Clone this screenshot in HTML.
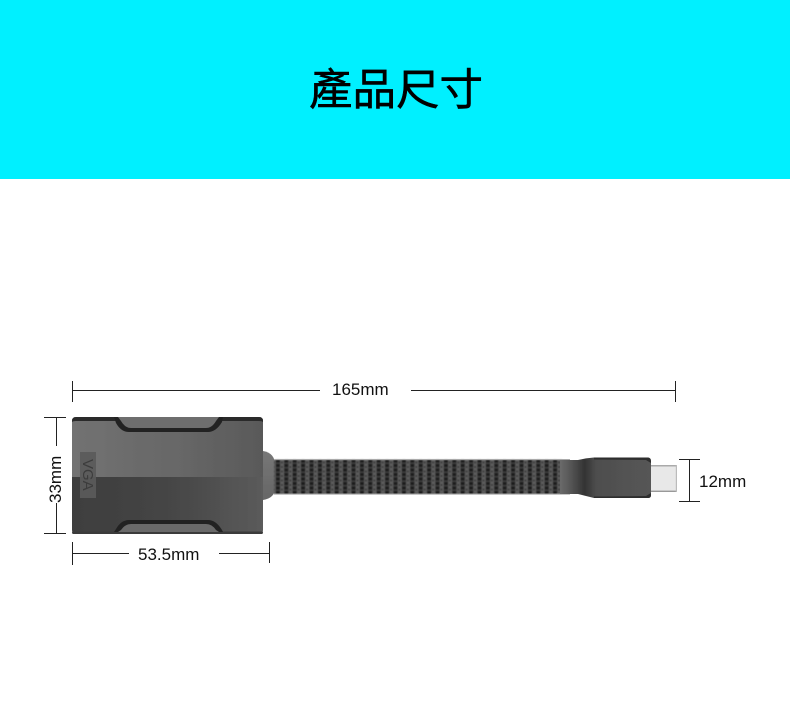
<!DOCTYPE html>
<html>
<head>
<meta charset="utf-8">
<style>
html,body{margin:0;padding:0;background:#fff;}
body{width:790px;height:703px;position:relative;overflow:hidden;font-family:"Liberation Sans","Noto Sans CJK TC",sans-serif;}
#hd{position:absolute;left:0;top:0;width:790px;height:179px;background:#00f0ff;}
#t{position:absolute;left:0;top:60px;width:790px;text-align:center;font-size:43.5px;line-height:62px;color:#000;font-family:"Liberation Sans","Noto Sans CJK TC",sans-serif;padding-left:2px;box-sizing:border-box;-webkit-text-stroke:0.5px #000;}
svg{position:absolute;left:0;top:0;}
text{font-family:"Liberation Sans",sans-serif;font-size:17px;fill:#111;}
</style>
</head>
<body>
<div id="hd"></div>
<div id="t">產品尺寸</div>
<svg width="790" height="703" viewBox="0 0 790 703">
<defs>
<linearGradient id="top" x1="0" y1="0" x2="1" y2="0">
<stop offset="0" stop-color="#727272"/><stop offset=".6" stop-color="#666"/><stop offset="1" stop-color="#595959"/>
</linearGradient>
<linearGradient id="bot" x1="0" y1="0" x2="1" y2="0">
<stop offset="0" stop-color="#3e3e3e"/><stop offset=".5" stop-color="#454545"/><stop offset="1" stop-color="#5b5b5b"/>
</linearGradient>
<linearGradient id="conn" gradientUnits="userSpaceOnUse" x1="560" y1="0" x2="651" y2="0">
<stop offset="0" stop-color="#6a6a6a"/><stop offset=".12" stop-color="#555"/><stop offset=".27" stop-color="#333"/><stop offset=".4" stop-color="#4e4e4e"/><stop offset="1" stop-color="#565656"/>
</linearGradient>
<linearGradient id="collar" x1="0" y1="0" x2="0" y2="1">
<stop offset="0" stop-color="#777"/><stop offset="1" stop-color="#666"/>
</linearGradient>
<pattern id="weave" x="275" y="459" width="8.4" height="9" patternUnits="userSpaceOnUse">
<rect width="8.4" height="9" fill="#5c5c5c"/>
<rect x="0.6" y="0" width="4.6" height="9" fill="#3e3e3e"/>
<rect x="1" y="0.5" width="3.8" height="3" fill="#1e1e1e"/>
<rect x="1" y="5" width="3.8" height="3" fill="#1e1e1e"/>
<rect x="6" y="2.5" width="1.8" height="2" fill="#3c3c3c"/>
<rect x="6" y="7" width="1.8" height="2" fill="#3c3c3c"/>
</pattern>
<filter id="b"><feGaussianBlur stdDeviation="0.6"/></filter>
<filter id="s"><feGaussianBlur stdDeviation="0.35"/></filter>
</defs>

<!-- collar -->
<path d="M263 451 Q275 453 275 465 L275 488 Q275 498 263 500 Z" fill="url(#collar)" filter="url(#s)"/>
<!-- cable -->
<rect x="274" y="459.5" width="296" height="34.5" fill="#666"/>
<rect x="274" y="459.5" width="288" height="34.5" fill="url(#weave)" filter="url(#b)"/>
<rect x="274" y="459" width="296" height="1.2" fill="#aaa"/>
<rect x="274" y="493.6" width="296" height="1.2" fill="#bbb"/>

<!-- plug -->
<rect x="650" y="465" width="27" height="27" rx="1" fill="#e8e8e8" filter="url(#s)"/>
<rect x="650" y="465" width="27" height="1.5" fill="#aaa"/>
<rect x="650" y="490.6" width="27" height="1.4" fill="#999"/>
<rect x="675.8" y="465" width="1.2" height="27" fill="#bbb"/>
<!-- cable connector -->
<g filter="url(#s)">
<path d="M560 460 L578 460 Q586 458 594 457.5 L648 457.5 Q651 458 651 461 L651 495 Q651 498 648 498 L594 498 Q586 496 578 494 L560 494 Z" fill="url(#conn)"/>
<path d="M594 457.5 L648 457.5 Q651 458 651 461 L651 463 L646 460 L594 459.5 Z" fill="#2e2e2e"/>
<path d="M594 498 L648 498 Q651 498 651 495 L651 493 L646 496 L594 496.5 Z" fill="#2e2e2e"/>
</g>

<!-- body -->
<g filter="url(#s)">
<path d="M76 417 H259 Q263 417 263 421 V477 H72 V421 Q72 417 76 417 Z" fill="url(#top)"/>
<path d="M72 477 H263 V530 Q263 534 259 534 H76 Q72 534 72 530 Z" fill="url(#bot)"/>
<!-- top dark edge -->
<path d="M76 417 H259 Q263 417 263 421 L263 422 Q262 421 259 421 H76 Q73 421 72 422 V421 Q72 417 76 417 Z" fill="#2c2c2c"/>
<!-- top notch -->
<path d="M114 417 H223 L222 422 Q216 432 208 432 H129 Q121 432 116 423 Z" fill="#232323"/>
<path d="M118 417 H219 L216 421 Q212 428 206 428 H131 Q125 428 121 421 Z" fill="#6e6e6e"/>
<!-- bottom dark edge -->
<rect x="72" y="531.5" width="191" height="2.5" rx="1.2" fill="#3a3a3a"/>
<!-- bottom notch -->
<path d="M114 532 H223 L222 530 Q216 520 208 520 H129 Q121 520 116 529 Z" fill="#232323"/>
<path d="M118 532 H219 L216 530 Q212 524 206 524 H131 Q125 524 121 530 Z" fill="#6a6a6a"/>
<!-- VGA label -->
<rect x="80" y="452" width="16" height="25" fill="#5c5c5c"/>
<rect x="80" y="477" width="16" height="21" fill="#585858"/>
</g>
<text transform="translate(83,459) rotate(90)" style="font-size:15px;fill:#3c3c3c">VGA</text>

<!-- dimension lines -->
<g stroke="#222" stroke-width="1" fill="none" shape-rendering="crispEdges">
<path d="M73 390.5H320M411 390.5H675"/>
<path d="M72.5 381V402M675.5 381V402"/>
<path d="M44 417.5H66M44 533.5H66"/>
<path d="M56.5 417V446M56.5 503V533"/>
<path d="M73 553.5H129M219 553.5H269"/>
<path d="M72.5 542V565M269.5 542V563"/>
<path d="M679 459.5H700M679 501.5H700"/>
<path d="M689.5 459V501"/>
</g>
<text x="332" y="395">165mm</text>
<text x="138" y="560">53.5mm</text>
<text x="699" y="487">12mm</text>
<text transform="translate(61,503) rotate(-90)">33mm</text>
</svg>
</body>
</html>
